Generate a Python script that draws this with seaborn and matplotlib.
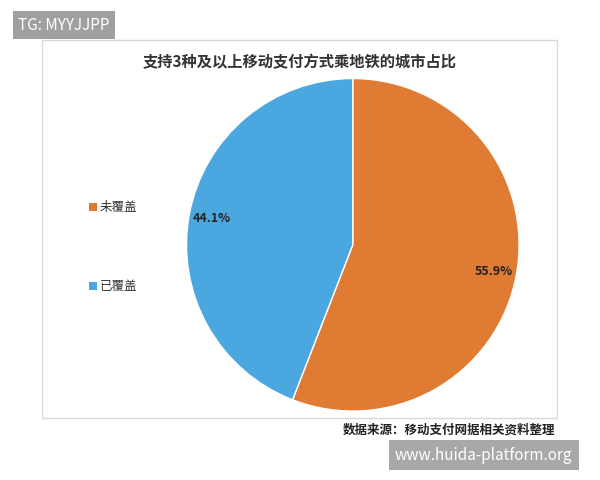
import matplotlib
matplotlib.use("Agg")
import matplotlib.pyplot as plt
import seaborn as sns
from matplotlib.patches import Rectangle

sns.set_style("white")
plt.rcParams['font.family'] = ['Noto Sans CJK SC', 'DejaVu Sans']

labels = ["未覆盖", "已覆盖"]
values = [55.9, 44.1]
colors = ["#E07B33", "#4BA7E0"]
title = "支持3种及以上移动支付方式乘地铁的城市占比"
source = "数据来源：移动支付网据相关资料整理"

fig = plt.figure(figsize=(6, 4.8), dpi=100)
fig.patches.append(Rectangle((42/600, 1-418/480), 515/600, 378/480, transform=fig.transFigure,
                             fill=False, edgecolor="#D9D9D9", lw=1))
ax = fig.add_axes([0.2415, 0.057, 0.693, 0.866])
wedges, texts, autotexts = ax.pie(values, colors=colors, startangle=90, counterclock=False,
                                  autopct="%.1f%%", pctdistance=0.86,
                                  wedgeprops=dict(edgecolor="white", linewidth=1),
                                  textprops=dict(fontsize=9, fontweight="bold", color="#222222"))
ax.set_aspect("equal")
ax.axis("off")

fig.text(0.5, 1-62/480, title, ha="center", va="center", fontsize=11, fontweight="bold", color="#333333")
for lab, col, y in zip(labels, colors, [207, 286]):
    fig.patches.append(Rectangle((89/600, 1-(y+4)/480), 8/600, 8/480, transform=fig.transFigure,
                                 facecolor=col, edgecolor="none"))
    fig.text(100/600, 1-y/480, lab, ha="left", va="center", fontsize=9, color="#333333")
fig.text(555/600, 1-430/480, source, ha="right", va="center", fontsize=9, fontweight="bold", color="#222222")

fig.text(18/600, 1-25/480, "TG: MYYJJPP", ha="left", va="center", fontsize=11, color="white",
         bbox=dict(boxstyle="square,pad=0.35", facecolor="#A0A0A0", edgecolor="none"))
fig.text(395/600, 1-455/480, "www.huida-platform.org", ha="left", va="center", fontsize=11, color="white",
         bbox=dict(boxstyle="square,pad=0.4", facecolor="#A8A8A8", edgecolor="none"))

fig.savefig("out.png", dpi=100)
